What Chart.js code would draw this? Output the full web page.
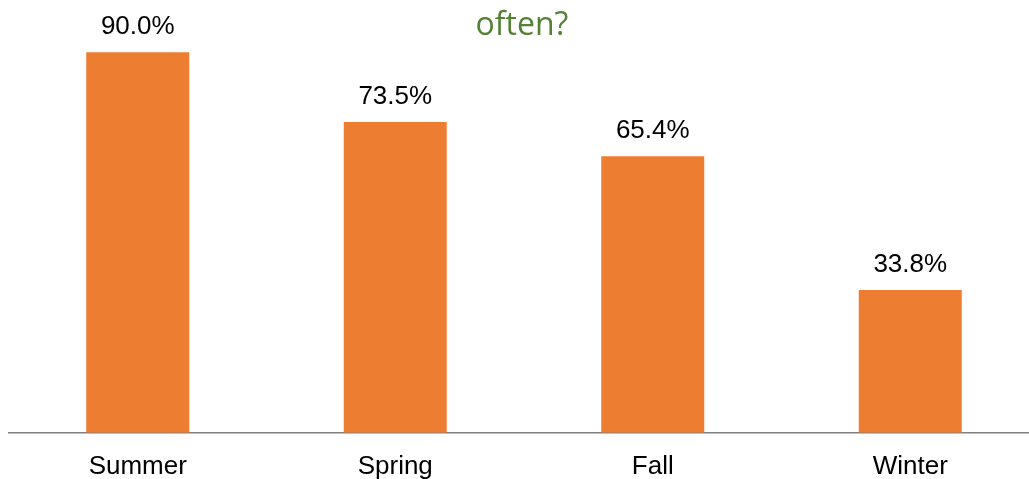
<!DOCTYPE html>
<html>
<head>
<meta charset="utf-8">
<script src="https://cdn.jsdelivr.net/npm/chart.js@4"></script>
<style>
  html, body { margin: 0; padding: 0; background: #fff; overflow: hidden; }
  #wrap { width: 1029px; height: 479px; overflow: hidden; }
</style>
</head>
<body>
<div id="wrap"><canvas id="seasonChart" width="1040" height="504"></canvas></div>
<script>
const seasons = ["Summer", "Spring", "Fall", "Winter"];
const shares = [90.0, 73.5, 65.4, 33.8];
const titleTail = "often?";

// percent labels sitting above each bar
const barLabels = {
  id: "barLabels",
  afterDatasetsDraw(chart) {
    const ctx = chart.ctx;
    ctx.save();
    ctx.font = "26px 'Liberation Sans', Arial, sans-serif";
    ctx.fillStyle = "#000";
    ctx.textAlign = "center";
    ctx.textBaseline = "alphabetic";
    chart.getDatasetMeta(0).data.forEach((bar, i) => {
      ctx.fillText(shares[i].toFixed(1) + "%", bar.x, bar.y - 18);
    });
    ctx.restore();
  }
};

// last line of the question heading, drawn without taking layout space
const headLine = {
  id: "headLine",
  afterDraw(chart) {
    const ctx = chart.ctx;
    ctx.save();
    ctx.font = "32px 'Open Sans', sans-serif";
    ctx.fillStyle = "#538135";
    ctx.textAlign = "center";
    ctx.textBaseline = "alphabetic";
    ctx.fillText(titleTail, 522, 35);
    ctx.restore();
  }
};

new Chart(document.getElementById("seasonChart"), {
  type: "bar",
  data: {
    labels: seasons,
    datasets: [{
      data: shares,
      backgroundColor: "#ED7D31",
      barPercentage: 0.4,
      categoryPercentage: 1.0
    }]
  },
  options: {
    responsive: false,
    animation: false,
    layout: { padding: { left: 9, right: 1, top: 10, bottom: 4 } },
    plugins: {
      legend: { display: false },
      tooltip: { enabled: false }
    },
    scales: {
      x: {
        grid: { display: false, drawTicks: false },
        border: { display: true, color: "#808080", width: 1.5 },
        ticks: {
          color: "#000",
          padding: 18,
          font: { family: "'Liberation Sans', Arial, sans-serif", size: 26 }
        }
      },
      y: {
        display: false,
        min: 0,
        max: 100
      }
    }
  },
  plugins: [barLabels, headLine]
});
</script>
</body>
</html>
